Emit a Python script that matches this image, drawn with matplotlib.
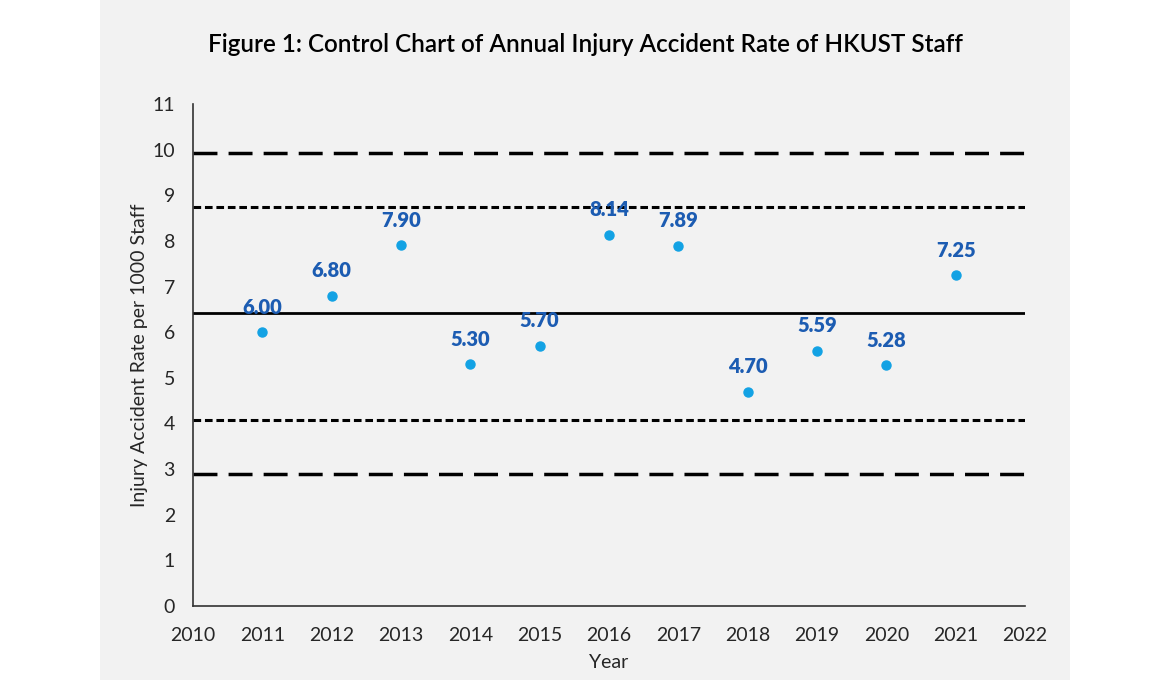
import matplotlib
matplotlib.use("Agg")
import matplotlib.pyplot as plt
from matplotlib.patches import Rectangle

years = [2011, 2012, 2013, 2014, 2015, 2016, 2017, 2018, 2019, 2020, 2021]
rates = [6.00, 6.80, 7.90, 5.30, 5.70, 8.14, 7.89, 4.70, 5.59, 5.28, 7.25]
labels = ["6.00", "6.80", "7.90", "5.30", "5.70", "8.14", "7.89", "4.70", "5.59", "5.28", "7.25"]
center_line = 6.41
limits_2sigma = [8.75, 4.07]
limits_3sigma = [9.92, 2.90]
x_ticks = list(range(2010, 2023))
y_ticks = list(range(0, 12))

plt.rcParams['font.family'] = ['Lato', 'DejaVu Sans']

fig = plt.figure(figsize=(11.7, 6.8), dpi=100)
fig.patch.set_facecolor('white')
bg = Rectangle((100/1170, 0), 970/1170, 1, transform=fig.transFigure,
               facecolor='#f2f2f2', edgecolor='none', zorder=-5)
fig.patches.append(bg)

ax = fig.add_axes([193/1170, 1-606/680, (1025-193)/1170, (606-104)/680])
ax.set_zorder(1)
ax.set_facecolor('#f2f2f2')

ax.set_xlim(2010, 2022)
ax.set_ylim(0, 11)

ax.axhline(center_line, color='black', lw=2.0, zorder=2)
for v in limits_2sigma:
    ax.axhline(v, color='black', lw=2.2, dashes=(2.5, 1.25), zorder=2)
for v in limits_3sigma:
    ax.axhline(v, color='black', lw=2.5, dashes=(6.9, 3.2), zorder=2)

ax.plot(years, rates, 'o', color='#13a2e4', markersize=6.5, zorder=3, linestyle='none')
for x, y, t in zip(years, rates, labels):
    ax.annotate(t, (x, y), xytext=(0, 18), textcoords='offset points', ha='center',
                va='center', color='#1c5cb2', fontsize=14.5, fontweight='heavy', zorder=4)

ax.set_xticks(x_ticks)
ax.set_yticks(y_ticks)
ax.tick_params(axis='both', length=0, labelsize=14, colors='#262626')
ax.tick_params(axis='x', pad=15)
ax.tick_params(axis='y', pad=13)
for s in ['top', 'right']:
    ax.spines[s].set_visible(False)
for s in ['left', 'bottom']:
    ax.spines[s].set_color('#333333')
    ax.spines[s].set_linewidth(1.2)

ax.set_xlabel('Year', fontsize=14, color='#262626', labelpad=7)
ax.set_ylabel('Injury Accident Rate per 1000 Staff', fontsize=14, color='#262626', labelpad=3)

fig.text(585/1170, 1-45/680, 'Figure 1: Control Chart of Annual Injury Accident Rate of HKUST Staff',
         ha='center', va='center', fontsize=17.5, fontweight='semibold', color='black')

fig.savefig('out.png', dpi=100, facecolor='white')
